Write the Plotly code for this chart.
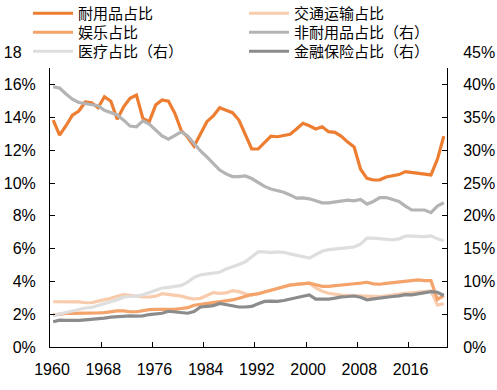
import plotly.graph_objects as go

years = list(range(1960, 2022))

durable = [13.85, 12.93, 13.5, 14.15, 14.4, 14.95, 14.9, 14.6, 15.27, 15.0,
           13.9, 14.66, 15.17, 15.37, 13.95, 13.75, 14.76, 15.07, 15.0, 14.26,
           13.2, 12.8, 12.25, 13.0, 13.75, 14.1, 14.6, 14.45, 14.3, 13.85,
           12.95, 12.08, 12.08, 12.5, 12.87, 12.83, 12.9, 12.98, 13.3, 13.65,
           13.5, 13.3, 13.44, 13.14, 13.1, 12.85, 12.5, 12.2, 10.85, 10.29,
           10.19, 10.2, 10.37, 10.45, 10.52, 10.7, 10.65, 10.6, 10.57, 10.5,
           11.45, 12.87]

transport = [2.76, 2.76, 2.76, 2.76, 2.75, 2.7, 2.7, 2.8, 2.87, 2.97,
             3.1, 3.2, 3.15, 3.1, 3.05, 3.05, 3.1, 3.25, 3.2, 3.15,
             3.1, 3.0, 2.93, 2.97, 3.15, 3.32, 3.27, 3.3, 3.44, 3.38,
             3.25, 3.17, 3.25, 3.35, 3.45, 3.55, 3.68, 3.8, 3.84, 3.87,
             3.89, 3.6, 3.4, 3.28, 3.22, 3.17, 3.15, 3.13, 3.1, 3.07,
             3.07, 3.07, 3.12, 3.18, 3.22, 3.27, 3.31, 3.33, 3.38, 3.42,
             2.56, 2.64]

recreation = [1.95, 2.0, 2.05, 2.05, 2.05, 2.05, 2.05, 2.08, 2.1, 2.15,
              2.2, 2.2, 2.15, 2.15, 2.22, 2.28, 2.3, 2.3, 2.3, 2.3,
              2.35, 2.4, 2.55, 2.6, 2.65, 2.7, 2.76, 2.8, 2.87, 2.97,
              3.1, 3.2, 3.25, 3.35, 3.45, 3.55, 3.7, 3.78, 3.82, 3.88,
              3.9, 3.8, 3.7, 3.7, 3.75, 3.78, 3.82, 3.86, 3.9, 3.95,
              3.85, 3.83, 3.88, 3.92, 3.95, 4.0, 4.05, 4.09, 4.05, 4.05,
              2.9, 3.13]

nondurable = [39.7, 39.5, 38.6, 37.8, 37.3, 37.1, 37.0, 36.8, 36.1, 35.7,
              35.4, 34.6, 33.7, 33.6, 34.5, 34.0, 33.1, 32.2, 31.7, 32.3,
              32.8, 32.2, 31.0, 29.9, 29.0, 28.0, 27.0, 26.4, 26.0, 26.0,
              26.1, 25.7, 25.1, 24.5, 24.1, 23.85, 23.6, 23.2, 22.7, 22.75,
              22.6, 22.3, 22.0, 22.0, 22.1, 22.3, 22.4, 22.3, 22.5, 21.8,
              22.2, 22.8, 22.8, 22.5, 22.2, 21.5, 20.9, 20.9, 20.9, 20.5,
              21.5, 22.0]

medical = [4.8, 5.05, 5.3, 5.45, 5.8, 5.95, 6.05, 6.3, 6.6, 6.9,
           7.2, 7.6, 7.7, 7.75, 7.95, 8.3, 8.75, 9.0, 9.1, 9.25,
           9.4, 9.9, 10.6, 11.0, 11.1, 11.2, 11.4, 11.9, 12.2, 12.6,
           13.0, 13.8, 14.5, 14.5, 14.4, 14.5, 14.45, 14.2, 14.0, 13.85,
           13.55, 14.1, 14.6, 14.85, 15.0, 15.05, 15.15, 15.25, 15.7, 16.6,
           16.6, 16.5, 16.45, 16.35, 16.5, 16.9, 16.9, 16.85, 16.85, 16.95,
           16.5, 16.2]

finance = [3.85, 4.1, 4.05, 4.0, 4.05, 4.15, 4.2, 4.3, 4.4, 4.55,
           4.65, 4.7, 4.75, 4.7, 4.75, 4.95, 5.05, 5.15, 5.45, 5.35,
           5.35, 5.15, 5.4, 6.1, 6.2, 6.3, 6.65, 6.5, 6.3, 6.1,
           6.1, 6.2, 6.6, 6.95, 7.0, 6.95, 7.1, 7.35, 7.55, 7.75,
           7.95, 7.3, 7.3, 7.3, 7.45, 7.65, 7.7, 7.78, 7.6, 7.2,
           7.35, 7.5, 7.6, 7.7, 7.8, 8.0, 7.95, 8.1, 8.2, 8.45,
           8.35, 7.85]

x_tick_labels = ["1960", "1968", "1976", "1984", "1992", "2000", "2008", "2016"]
left_ticks = [0, 2, 4, 6, 8, 10, 12, 14, 16, 18]
right_ticks = [0, 5, 10, 15, 20, 25, 30, 35, 40, 45]

# (name, values, colour, axis, legend row)
series = [
    ("耐用品占比", durable, "#ED7D31", "y", "legend2"),
    ("交通运输占比", transport, "#F8CBAD", "y", "legend2"),
    ("娱乐占比", recreation, "#F4A36A", "y", "legend3"),
    ("非耐用品占比（右）", nondurable, "#B4B4B4", "y2", "legend3"),
    ("医疗占比（右）", medical, "#DEDEDE", "y2", "legend"),
    ("金融保险占比（右）", finance, "#8C8C8C", "y2", "legend"),
]

fig = go.Figure()
for name, vals, color, ax, lg in series:
    fig.add_trace(go.Scatter(x=years, y=vals, name=name, mode="lines",
                             line=dict(color=color, width=3.2), yaxis=ax,
                             legend=lg))

font_main = "Liberation Sans, Arial, Noto Sans CJK SC, sans-serif"
tick_font = dict(family=font_main, size=16, color="#000000")
legend_font = dict(family=font_main, size=15, color="#000000")


def row_legend(ytop, bg):
    return dict(
        orientation="h", x=-0.0705, xanchor="left", y=ytop, yanchor="top",
        bgcolor=bg, borderwidth=0, font=legend_font,
        entrywidth=155, entrywidthmode="pixels", itemwidth=40,
        indentation=6, traceorder="normal",
    )


fig.update_layout(
    width=497, height=390,
    margin=dict(l=50, r=50, t=52, b=43, autoexpand=False),
    paper_bgcolor="white", plot_bgcolor="white",
    showlegend=True,
    legend=row_legend(1.0577, "white"),
    legend2=row_legend(1.1865, "rgba(0,0,0,0)"),
    legend3=row_legend(1.122, "rgba(0,0,0,0)"),
    xaxis=dict(
        range=[1959.5, 2021.5],
        tickvals=[1959.5 + 8 * i for i in range(len(x_tick_labels))],
        ticktext=x_tick_labels,
        ticks="inside", ticklen=5, tickcolor="black",
        showline=True, linecolor="black", linewidth=1,
        showgrid=False, zeroline=False,
        tickfont=tick_font, ticklabelshift=2, ticklabelstandoff=8,
    ),
    yaxis=dict(
        range=[0, 18], tickvals=left_ticks,
        ticktext=[f"{v}%" for v in left_ticks],
        ticks="inside", ticklen=5, tickcolor="black",
        showline=True, linecolor="black", linewidth=1,
        showgrid=False, zeroline=False,
        tickfont=tick_font, ticklabelstandoff=10,
    ),
    yaxis2=dict(
        range=[0, 45], tickvals=right_ticks,
        ticktext=[f"{v}%" for v in right_ticks],
        overlaying="y", side="right",
        ticks="inside", ticklen=5, tickcolor="black",
        showline=True, linecolor="black", linewidth=1,
        showgrid=False, zeroline=False,
        tickfont=tick_font, ticklabelstandoff=12,
    ),
)

fig.write_html("out.html",
               config={"displayModeBar": False},
               post_script="document.body.style.margin='0px';"
                           "document.body.style.overflow='hidden';")
